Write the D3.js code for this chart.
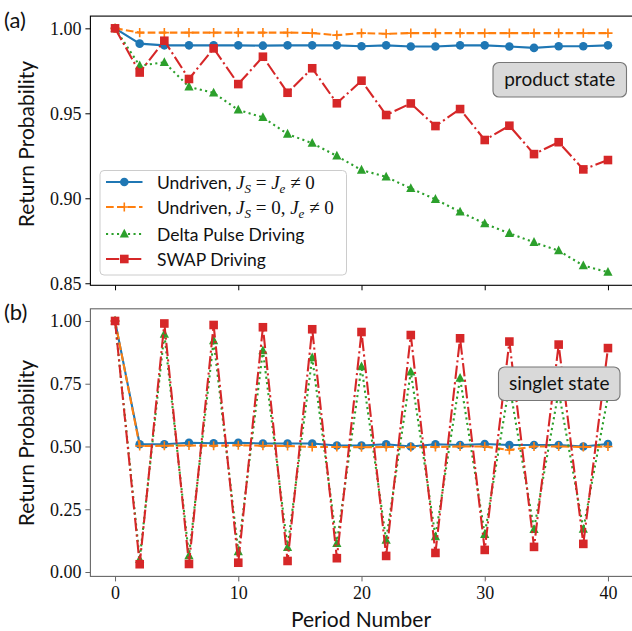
<!DOCTYPE html>
<html><head><meta charset="utf-8">
<script src="https://cdn.jsdelivr.net/npm/d3@7"></script>
<style>body{margin:0;background:#fff}svg{display:block}</style>
</head><body>
<svg id="c" width="632" height="631"></svg>
<script>
const periods = [0,2,4,6,8,10,12,14,16,18,20,22,24,26,28,30,32,34,36,38,40];
const xTicks = [0,10,20,30,40];
const yTicksA = [0.85,0.90,0.95,1.00];
const yTicksB = [0,0.25,0.5,0.75,1.0];

// Panel (a): product state
const prodUndrivenJ = [1.0,0.991,0.990,0.990,0.990,0.990,0.9898,0.990,0.990,0.990,0.9895,0.990,0.9893,0.9893,0.990,0.990,0.9893,0.9885,0.9895,0.9895,0.990];
const prodUndriven0 = [1.0,0.9975,0.9975,0.9975,0.9975,0.9975,0.9975,0.9975,0.9972,0.996,0.9972,0.9968,0.9972,0.9972,0.9972,0.9972,0.9972,0.9972,0.9972,0.9972,0.9972];
const prodDelta = [1.0,0.978,0.980,0.9656,0.962,0.952,0.9476,0.9378,0.9324,0.9249,0.9166,0.9126,0.9058,0.8994,0.892,0.8851,0.8794,0.8741,0.8692,0.8604,0.8565];
const prodSwap = [1.0,0.974,0.9927,0.9702,0.9882,0.9672,0.9833,0.9621,0.9765,0.9559,0.9692,0.949,0.9558,0.9425,0.9525,0.9343,0.9427,0.926,0.933,0.917,0.9225];

// Panel (b): singlet state
const singUndrivenJ = [1.0,0.509,0.509,0.515,0.513,0.515,0.512,0.512,0.512,0.504,0.504,0.509,0.500,0.509,0.506,0.510,0.506,0.506,0.506,0.500,0.510];
const singUndriven0 = [1.0,0.502,0.503,0.504,0.503,0.505,0.503,0.502,0.498,0.498,0.497,0.498,0.497,0.498,0.500,0.500,0.486,0.500,0.500,0.498,0.500];
const singDelta = [1.0,0.05,0.948,0.065,0.922,0.081,0.882,0.098,0.854,0.114,0.818,0.127,0.797,0.141,0.772,0.150,0.745,0.170,0.72,0.171,0.70];
const singSwap = [1.0,0.031,0.99,0.032,0.984,0.037,0.975,0.044,0.967,0.055,0.956,0.064,0.944,0.076,0.931,0.088,0.918,0.10,0.906,0.112,0.892];

const seriesNames = ["Undriven, ", "Undriven, ", "Delta Pulse Driving", "SWAP Driving"];
const colors = ["#1f77b4","#ff7f0e","#2ca02c","#d62728"];
const dashes = [null, "7.7,3.3", "2.1,3.4", "13.3,3.3,2.1,3.3"];
const markers = ["circle","plus","triangle","square"];

const svg = d3.select("#c");
const SERIF = "'Liberation Serif', 'DejaVu Serif', serif";
const SANS = "Lato, 'Noto Sans', sans-serif";

const x = d3.scaleLinear().domain([-2,42]).range([90.4,632.6]);
const yA = d3.scaleLinear().domain([0.8488,1.0072]).range([285.3,16.1]);
const yB = d3.scaleLinear().domain([-0.0175,1.0485]).range([576.4,308.8]);

function drawMarker(g, type, cx, cy, color){
  if(type==="circle") g.append("circle").attr("cx",cx).attr("cy",cy).attr("r",4.3).attr("fill",color);
  else if(type==="square") g.append("rect").attr("x",cx-4.3).attr("y",cy-4.3).attr("width",8.6).attr("height",8.6).attr("fill",color);
  else if(type==="triangle") g.append("path").attr("d",`M${cx},${cy-5.2}L${cx+4.6},${cy+3.6}L${cx-4.6},${cy+3.6}Z`).attr("fill",color);
  else if(type==="plus") g.append("path").attr("d",`M${cx-4.6},${cy}H${cx+4.6}M${cx},${cy-4.6}V${cy+4.6}`).attr("stroke",color).attr("stroke-width",1.6).attr("fill","none");
}

function panel(y, data, ticksY, fmt, spineColor, showXLabels){
  const g = svg.append("g");
  const [x0,x1] = x.range(); const [yb,yt] = y.range();
  // ticks
  const ya = g.append("g").attr("transform",`translate(${x0},0)`)
    .call(d3.axisLeft(y).tickValues(ticksY).tickFormat(fmt).tickSize(5).tickPadding(4));
  const xa = g.append("g").attr("transform",`translate(0,${yb})`)
    .call(d3.axisBottom(x).tickValues(xTicks).tickFormat(showXLabels? d3.format("d") : () => "").tickSize(5).tickPadding(5));
  [ya,xa].forEach(a=>{
    a.select(".domain").remove();
    a.selectAll("line").attr("stroke",spineColor).attr("stroke-width",1);
    a.selectAll("text").attr("font-family",SERIF).attr("font-size",18).attr("fill","#111");
  });
  // lines
  const clip = "clip"+Math.round(yt);
  svg.append("clipPath").attr("id",clip).append("rect").attr("x",x0).attr("y",yt).attr("width",x1-x0).attr("height",yb-yt);
  const plot = g.append("g").attr("clip-path",`url(#${clip})`);
  data.forEach((vals,i)=>{
    const line = d3.line().x((d,j)=>x(periods[j])).y(d=>y(d));
    const p = plot.append("path").datum(vals).attr("d",line).attr("fill","none")
      .attr("stroke",colors[i]).attr("stroke-width",2.1);
    if(dashes[i]) p.attr("stroke-dasharray",dashes[i]);
    vals.forEach((v,j)=>drawMarker(plot, markers[i], x(periods[j]), y(v), colors[i]));
  });
  // frame
  g.append("rect").attr("x",x0).attr("y",yt).attr("width",x1-x0).attr("height",yb-yt)
    .attr("fill","none").attr("stroke",spineColor).attr("stroke-width",1.1);
  return g;
}

panel(yA, [prodUndrivenJ,prodUndriven0,prodDelta,prodSwap], yTicksA, d3.format(".2f"), "#000", false);
panel(yB, [singUndrivenJ,singUndriven0,singDelta,singSwap], yTicksB, d3.format(".2f"), "#666", true);

// y labels
[[144,"Return Probability"],[443,"Return Probability"]].forEach(([cy,t])=>{
  svg.append("text").attr("transform",`translate(34,${cy}) rotate(-90)`).attr("text-anchor","middle")
    .attr("font-family",SANS).attr("font-size",21).attr("fill","#111").text(t);
});
svg.append("text").attr("x",361).attr("y",627).attr("text-anchor","middle")
  .attr("font-family",SANS).attr("font-size",21).attr("fill","#111").text("Period Number");
svg.append("text").attr("x",4).attr("y",28).attr("font-family",SANS).attr("font-size",22).attr("fill","#111").text("(a)");
svg.append("text").attr("x",4).attr("y",320).attr("font-family",SANS).attr("font-size",22).attr("fill","#111").text("(b)");

// state boxes
function stateBox(x0,y0,x1,y1,t){
  svg.append("rect").attr("x",x0).attr("y",y0).attr("width",x1-x0).attr("height",y1-y0).attr("rx",6)
    .attr("fill","#d9d9d9").attr("stroke","#777").attr("stroke-width",1.1);
  svg.append("text").attr("x",(x0+x1)/2).attr("y",(y0+y1)/2+6.5).attr("text-anchor","middle")
    .attr("font-family",SANS).attr("font-size",19).attr("fill","#111").text(t);
}
stateBox(493,62.5,626.5,97,"product state");
stateBox(498.5,367,620,400.5,"singlet state");

// legend
const lg = svg.append("g");
lg.append("rect").attr("x",100).attr("y",170.5).attr("width",246.5).attr("height",104.5).attr("rx",4)
  .attr("fill","#fff").attr("fill-opacity",0.85).attr("stroke","#ccc").attr("stroke-width",1);
const rowY = [182,207,234,259];
rowY.forEach((ry,i)=>{
  const l = lg.append("line").attr("x1",106).attr("x2",142.5).attr("y1",ry).attr("y2",ry)
    .attr("stroke",colors[i]).attr("stroke-width",2.1);
  if(dashes[i]) l.attr("stroke-dasharray",dashes[i]);
  drawMarker(lg, markers[i], 124.3, ry, colors[i]);
  const t = lg.append("text").attr("x",157).attr("y",ry+6.5).attr("font-family",SANS).attr("font-size",17.5).attr("fill","#111");
  t.append("tspan").text(seriesNames[i]);
  if(i<2){
    const m = (s,it,sub)=>{const ts=t.append("tspan").attr("font-family",SERIF).attr("font-size",sub?13:19).text(s);
      if(it) ts.attr("font-style","italic"); if(sub) ts.attr("dy",sub); return ts;};
    m("J",true); m("S",true,4); m(" = ",false,0).attr("dy",-4).attr("font-size",19);
    if(i===0){ m("J",true); m("e",true,4); m(" \u2260 0",false).attr("dy",-4).attr("font-size",19); }
    else { m("0, ",false); m("J",true); m("e",true,4); m(" \u2260 0",false).attr("dy",-4).attr("font-size",19); }
  }
});
</script>
</body></html>
